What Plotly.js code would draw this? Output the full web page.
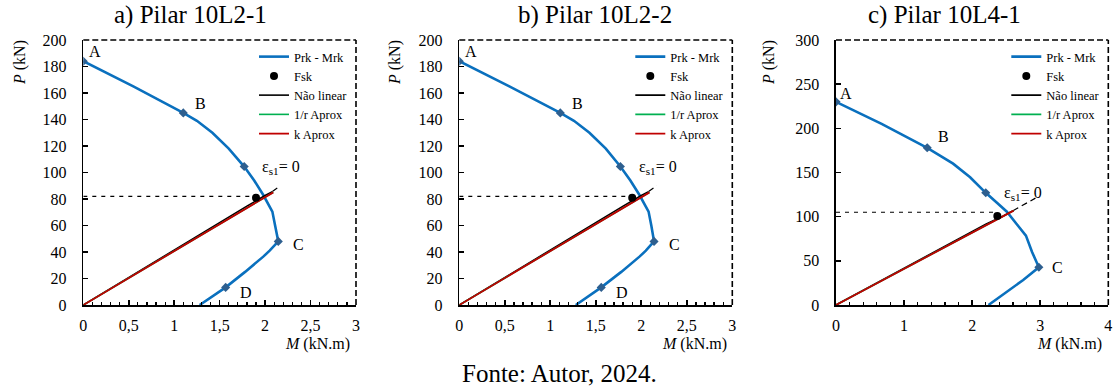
<!DOCTYPE html>
<html>
<head>
<meta charset="utf-8">
<script src="https://cdn.plot.ly/plotly-3.0.1.min.js"></script>
<style>html,body{margin:0;padding:0;background:#fff;}#chart{width:1118px;height:388px;}</style>
</head>
<body>
<div id="chart"></div>
<script>
// ---------- DATA ----------
const panelTitles = ["a) Pilar 10L2-1", "b) Pilar 10L2-2", "c) Pilar 10L4-1"];
const sourceText = "Fonte: Autor, 2024.";

// Panel a: Prk - Mrk curve
const curveA_M = [0, 0.55, 1.10, 1.25, 1.42, 1.60, 1.77, 1.88, 1.98, 2.04, 2.08, 2.11, 2.145, 2.05, 1.98, 1.78, 1.566, 1.28];
const curveA_P = [184, 165, 145, 139, 130, 118, 104.5, 94, 83, 76, 70.5, 60, 48, 41, 36.5, 25, 13.3, 0];
const pointsA_M = [0, 1.10, 1.77, 2.145, 1.566];
const pointsA_P = [184, 145, 104.5, 48, 13.3];
const fskA = [1.90, 81];
const naoLinearA_M = [0, 0.5, 1.0, 1.5, 1.8, 2.0, 2.08];
const naoLinearA_P = [0, 20.8, 41.6, 62.6, 74.6, 82.6, 85.6];
const extA_M = [2.08, 2.17];
const extA_P = [85.6, 90];
const rAproxA_M = [0, 2.09];
const rAproxA_P = [0, 85];
const kAproxA_M = [0, 2.09];
const kAproxA_P = [0, 85];
const hLineA_P = 82;

// Panel b
const curveB_M = [0, 0.55, 1.11, 1.26, 1.43, 1.61, 1.77, 1.88, 1.98, 2.04, 2.08, 2.11, 2.14, 2.05, 1.98, 1.78, 1.56, 1.28];
const curveB_P = [184, 165, 145, 139, 130, 118, 104.5, 94, 83, 76, 70.5, 60, 48, 41, 36.5, 25, 13.3, 0];
const pointsB_M = [0, 1.11, 1.77, 2.14, 1.56];
const pointsB_P = [184, 145, 104.5, 48, 13.3];
const fskB = [1.90, 81];
const naoLinearB_M = [0, 0.5, 1.0, 1.5, 1.8, 2.0, 2.08];
const naoLinearB_P = [0, 20.8, 41.6, 62.6, 74.6, 82.6, 85.6];
const extB_M = [2.08, 2.17];
const extB_P = [85.6, 90];
const rAproxB_M = [0, 2.09];
const rAproxB_P = [0, 85];
const kAproxB_M = [0, 2.09];
const kAproxB_P = [0, 85];
const hLineB_P = 82;

// Panel c
const curveC_M = [0, 0.67, 1.34, 1.72, 1.97, 2.20, 2.36, 2.51, 2.65, 2.79, 2.88, 2.98, 2.75, 2.50, 2.24];
const curveC_P = [230, 205, 178, 160, 144.6, 127, 116, 105.6, 92, 78.5, 60, 42.7, 28.3, 14, 0];
const pointsC_M = [0, 1.34, 2.20, 2.98];
const pointsC_P = [230, 178, 127, 42.7];
const fskC = [2.37, 100.7];
const naoLinearC_M = [0, 0.6, 1.2, 1.8, 2.2, 2.45, 2.6];
const naoLinearC_P = [0, 25, 50.5, 75.5, 91.5, 100.5, 106.8];
const extC_M = [2.6, 2.93];
const extC_P = [106.8, 121];
const rAproxC_M = [0, 2.61];
const rAproxC_P = [0, 106.8];
const kAproxC_M = [0, 2.61];
const kAproxC_P = [0, 106.8];
const hLineC_P = 105;

// Point labels
const labelsA = [["A", 0.13, 191], ["B", 1.29, 152], ["ε<sub>s1</sub>= 0", 2.18, 104], ["C", 2.37, 46], ["D", 1.79, 9.6]];
const labelsB = [["A", 0.13, 191], ["B", 1.30, 152], ["ε<sub>s1</sub>= 0", 2.18, 104], ["C", 2.37, 46], ["D", 1.79, 9.6]];
const labelsC = [["A", 0.15, 239], ["B", 1.58, 190.5], ["ε<sub>s1</sub>= 0", 2.75, 126], ["C", 3.26, 42]];

// Axis ticks
const xTicksAB = [0, 0.5, 1, 1.5, 2, 2.5, 3];
const xTickTextAB = ["0", "0,5", "1", "1,5", "2", "2,5", "3"];
const xTicksC = [0, 1, 2, 3, 4];
const xTickTextC = ["0", "1", "2", "3", "4"];
const yTicksAB = [0, 20, 40, 60, 80, 100, 120, 140, 160, 180, 200];
const yTicksC = [0, 50, 100, 150, 200, 250, 300];

const seriesNames = ["Prk - Mrk", "Fsk", "Não linear", "1/r Aprox", "k Aprox"];

// ---------- LAYOUT HELPERS ----------
const W = 1118, H = 388;
const FONT = "Liberation Serif";
const px = v => v / W;
const py = v => 1 - v / H;

const panels = [
  {xa: "x", ya: "y", legend: "legend", dom: [83.3, 356], xr: [0, 3], yr: [0, 200], xt: xTicksAB, xtt: xTickTextAB, yt: yTicksAB, minor: 0.1,
   curve: [curveA_M, curveA_P], pts: [pointsA_M, pointsA_P], fsk: fskA, nl: [naoLinearA_M, naoLinearA_P], ext: [extA_M, extA_P],
   r: [rAproxA_M, rAproxA_P], k: [kAproxA_M, kAproxA_P], h: hLineA_P, labels: labelsA, titleX: 190, yLabX: 20, mLabX: 352},
  {xa: "x2", ya: "y2", legend: "legend2", dom: [459.3, 732.3], xr: [0, 3], yr: [0, 200], xt: xTicksAB, xtt: xTickTextAB, yt: yTicksAB, minor: 0.1,
   curve: [curveB_M, curveB_P], pts: [pointsB_M, pointsB_P], fsk: fskB, nl: [naoLinearB_M, naoLinearB_P], ext: [extB_M, extB_P],
   r: [rAproxB_M, rAproxB_P], k: [kAproxB_M, kAproxB_P], h: hLineB_P, labels: labelsB, titleX: 595, yLabX: 395, mLabX: 728.5},
  {xa: "x3", ya: "y3", legend: "legend3", dom: [836, 1108.3], xr: [0, 4], yr: [0, 300], xt: xTicksC, xtt: xTickTextC, yt: yTicksC, minor: 0.2,
   curve: [curveC_M, curveC_P], pts: [pointsC_M, pointsC_P], fsk: fskC, nl: [naoLinearC_M, naoLinearC_P], ext: [extC_M, extC_P],
   r: [rAproxC_M, rAproxC_P], k: [kAproxC_M, kAproxC_P], h: hLineC_P, labels: labelsC, titleX: 944.5, yLabX: 769, mLabX: 1104}
];

const traces = [];
const annotations = [];
const shapes = [];
const layout = {
  width: W, height: H,
  margin: {l: 0, r: 0, t: 0, b: 0},
  paper_bgcolor: "#fff", plot_bgcolor: "#fff",
  font: {family: FONT, color: "#000"},
  showlegend: true,
  annotations: annotations, shapes: shapes
};

panels.forEach((p, i) => {
  const base = {xaxis: p.xa, yaxis: p.ya, legend: p.legend, hoverinfo: "skip"};
  traces.push(Object.assign({}, base, {type: "scatter", mode: "lines", x: p.curve[0], y: p.curve[1], name: seriesNames[0], legendrank: 1,
    line: {color: "#0A70BE", width: 2.6}}));
  traces.push(Object.assign({}, base, {type: "scatter", mode: "markers", x: p.pts[0], y: p.pts[1], showlegend: false,
    marker: {symbol: "diamond", size: 7, color: "#2E5F8F"}}));
  traces.push(Object.assign({}, base, {type: "scatter", mode: "lines", x: [0, p.fsk[0]], y: [p.h, p.h], showlegend: false,
    line: {color: "#000", width: 1.2, dash: "4px,5px"}}));
  traces.push(Object.assign({}, base, {type: "scatter", mode: "lines", x: p.nl[0], y: p.nl[1], name: seriesNames[2], legendrank: 3,
    line: {color: "#000", width: 1.6}}));
  traces.push(Object.assign({}, base, {type: "scatter", mode: "lines", x: p.ext[0], y: p.ext[1], showlegend: false,
    line: {color: "#000", width: 1.2, dash: "6px,4px"}}));
  traces.push(Object.assign({}, base, {type: "scatter", mode: "lines", x: p.r[0], y: p.r[1], name: seriesNames[3], legendrank: 4,
    line: {color: "#00B050", width: 1.6}}));
  traces.push(Object.assign({}, base, {type: "scatter", mode: "lines", x: p.k[0], y: p.k[1], name: seriesNames[4], legendrank: 5,
    line: {color: "#C00000", width: 1.8}}));
  traces.push(Object.assign({}, base, {type: "scatter", mode: "markers", x: [p.fsk[0]], y: [p.fsk[1]], name: seriesNames[1], legendrank: 2,
    marker: {symbol: "circle", size: 8, color: "#000"}}));

  const xKey = i === 0 ? "xaxis" : "xaxis" + (i + 1);
  const yKey = i === 0 ? "yaxis" : "yaxis" + (i + 1);
  layout[xKey] = {
    domain: [px(p.dom[0]), px(p.dom[1])], anchor: p.ya, range: p.xr,
    showline: true, linecolor: "#000", linewidth: 1.6, mirror: false,
    showgrid: false, zeroline: false,
    tickmode: "array", tickvals: p.xt, ticktext: p.xtt,
    ticks: "inside", ticklen: 5, tickwidth: 1.6, tickcolor: "#000",
    minor: {ticks: "inside", ticklen: 3, tickwidth: 1.2, tickcolor: "#000", dtick: p.minor, tick0: 0, showgrid: false},
    tickfont: {family: FONT, size: 16, color: "#000"}, ticklabelstandoff: 5, fixedrange: true
  };
  layout[yKey] = {
    domain: [py(305), py(40)], anchor: p.xa, range: p.yr,
    showline: true, linecolor: "#000", linewidth: 1.6, mirror: false,
    showgrid: false, zeroline: false,
    tickmode: "array", tickvals: p.yt,
    ticks: "inside", ticklen: 5, tickwidth: 1.4, tickcolor: "#000",
    tickfont: {family: FONT, size: 16, color: "#000"}, ticklabelstandoff: 12, fixedrange: true
  };
  layout[p.legend] = {
    x: px(p.dom[1] - 3), xanchor: "right", y: py(42), yanchor: "top",
    bgcolor: "rgba(0,0,0,0)", borderwidth: 0,
    font: {family: FONT, size: 12.5, color: "#000"},
    itemwidth: 30, tracegroupgap: 0
  };

  const xd = p.xa + " domain", yd = p.ya + " domain";
  shapes.push({type: "line", xref: xd, yref: yd, x0: 0, x1: 1, y0: 1, y1: 1, line: {color: "#000", width: 1.6, dash: "6px,3px"}});
  shapes.push({type: "line", xref: xd, yref: yd, x0: 1, x1: 1, y0: 0, y1: 1, line: {color: "#000", width: 1.6, dash: "6px,3px"}});

  p.labels.forEach(l => annotations.push({xref: p.xa, yref: p.ya, x: l[1], y: l[2], text: l[0], showarrow: false,
    xanchor: "center", yanchor: "middle", font: {family: FONT, size: 16, color: "#000"}}));

  annotations.push({xref: "paper", yref: "paper", x: px(p.titleX), y: py(15), text: panelTitles[i], showarrow: false,
    xanchor: "center", yanchor: "middle", font: {family: FONT, size: 25, color: "#000"}});
  annotations.push({xref: "paper", yref: "paper", x: px(p.yLabX), y: py(63), text: "<i>P</i> (kN)", textangle: -90, showarrow: false,
    xanchor: "center", yanchor: "middle", font: {family: FONT, size: 16, color: "#000"}});
  annotations.push({xref: "paper", yref: "paper", x: px(p.mLabX), y: py(344), text: "<i>M</i> (kN.m)", showarrow: false,
    xanchor: "right", yanchor: "middle", font: {family: FONT, size: 16, color: "#000"}});
});

annotations.push({xref: "paper", yref: "paper", x: px(559), y: py(373), text: sourceText, showarrow: false,
  xanchor: "center", yanchor: "middle", font: {family: FONT, size: 25, color: "#000"}});

Plotly.newPlot("chart", traces, layout, {displayModeBar: false, staticPlot: true});
</script>
</body>
</html>
